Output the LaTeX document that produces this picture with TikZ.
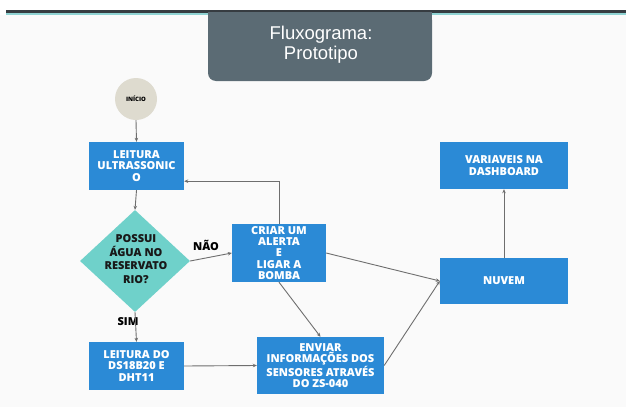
\documentclass[tikz,border=0pt]{standalone}
\usepackage{fontspec}
\setmainfont{Open Sans}
\IfFontExistsTF{Open Sans ExtraBold}{%
  \newfontfamily\heavy{Open Sans ExtraBold}}{%
  \IfFontExistsTF{Open Sans Extrabold}{%
    \newfontfamily\heavy{Open Sans Extrabold}}{%
    \IfFontExistsTF{OpenSans-ExtraBold}{%
      \newfontfamily\heavy{OpenSans-ExtraBold}}{%
      \newfontfamily\heavy{Open Sans}[UprightFeatures={FakeBold=2}]\def\heavyfallback{}}}}
\newfontfamily\titlefont{Liberation Sans}
\usetikzlibrary{shapes.geometric,arrows.meta}
\definecolor{boxblue}{HTML}{2B8AD6}
\definecolor{diateal}{HTML}{6FD1CA}
\definecolor{circbeige}{HTML}{DEDBCF}
\definecolor{titlegray}{HTML}{5B6B74}
\definecolor{arrowgray}{HTML}{6E6E6E}
\definecolor{bardark}{HTML}{363C41}
\definecolor{barteal}{HTML}{8FD3D3}
\tikzset{
  bluebox/.style={rectangle, fill=boxblue, text=white, font=\heavy\fontsize{11}{11.2}\selectfont, align=center, inner sep=0pt},
  conn/.style={draw=arrowgray, line width=0.9pt, -{Stealth[length=4pt,width=3.5pt]}},
  lbl/.style={font=\heavy\fontsize{11}{12}\selectfont, text=black},
}
\begin{document}
\begin{tikzpicture}[x=1pt,y=-1pt]
\useasboundingbox (0,0) rectangle (626,407);
\fill[white] (0,0) rectangle (626,407);
\fill[black!2] (0,15) rectangle (626,407);
% top bar
\fill[barteal] (6,12.5) rectangle (626,15);
\fill[bardark] (6,10) rectangle (626,13);
% title
\node[fill=titlegray, rounded corners=8pt, minimum width=224pt, minimum height=69pt, inner sep=0pt] (title) at (320,46.5) {};
\fill[titlegray] (208,12) rectangle (432,24);
\node[text=white, align=center, font=\titlefont\fontsize{18.5}{20}\selectfont] (titletext) at (321,45) {Fluxograma:\\Prototipo};
% nodes
\node[circle, fill=circbeige, minimum size=42pt, inner sep=0pt, font=\heavy\fontsize{6}{7}\selectfont] (ini) at (136,99) {INÍCIO};
\node[bluebox, minimum width=95pt, minimum height=48pt] (leit) at (136.5,166) {LEITURA\\ULTRASSONIC\\O};
\node[diamond, fill=diateal, minimum width=110pt, minimum height=102pt, inner sep=0pt] (dia) at (135,261) {};
\node[align=center, font=\heavy\fontsize{11}{13.5}\selectfont, text=black!90] (diatext) at (136,259) {POSSUI\\ÁGUA NO\\RESERVATO\\RIO?};
\node[bluebox, minimum width=94pt, minimum height=58pt] (criar) at (279,253) {CRIAR UM\\ALERTA\\E\\LIGAR A\\BOMBA};
\node[bluebox, minimum width=95pt, minimum height=48pt] (ds) at (136.5,366) {LEITURA DO\\DS18B20 E\\DHT11};
\node[bluebox, minimum width=127pt, minimum height=57pt] (env) at (320.5,365.5) {ENVIAR\\INFORMAÇÕES DOS\\SENSORES ATRAVÉS\\DO ZS-040};
\node[bluebox, minimum width=128pt, minimum height=46pt] (nuvem) at (504,281) {NUVEM};
\node[bluebox, minimum width=128pt, minimum height=47pt] (var) at (504,165.5) {VARIAVEIS NA\\DASHBOARD};
% labels
\node[lbl] (nao) at (206,245) {NÃO};
\node[lbl] (sim) at (128,322) {SIM};
% connectors
\draw[conn] (ini.south) -- (leit.north);
\draw[conn] (leit.south) -- (dia.north);
\draw[conn] (dia.east) -- (criar.west);
\draw[conn] (criar.north) |- ([yshift=9pt]leit.south east);
\draw[conn] (dia.south) -- (ds.north);
\draw[conn] (ds.east) -- (env.west);
\draw[conn] (criar.south) -- (env.north);
\draw[conn] (criar.east) -- (nuvem.west);
\draw[conn] (env.east) -- (nuvem.west);
\draw[conn] (nuvem.north) -- (var.south);
\end{tikzpicture}
\end{document}
